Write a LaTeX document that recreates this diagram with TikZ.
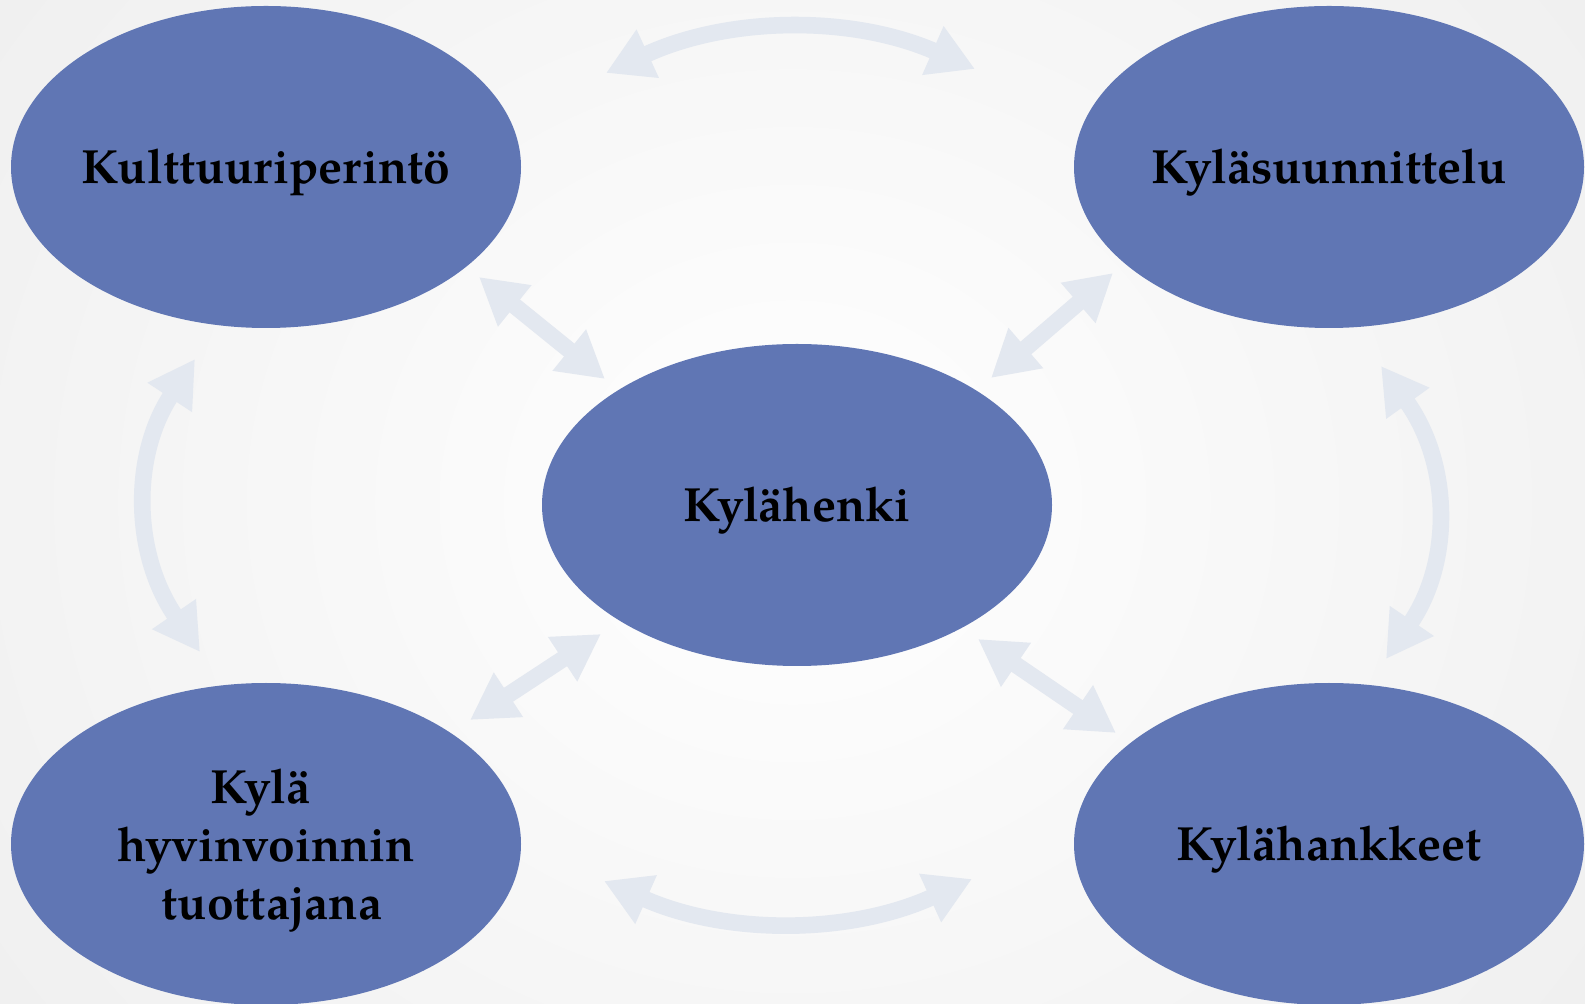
\documentclass[tikz,border=0pt]{standalone}
\usepackage{fontspec}
\setmainfont{TeX Gyre Pagella}
\usetikzlibrary{shapes.geometric,arrows.meta}
\definecolor{ellblue}{RGB}{96,118,180}
\definecolor{arrgray}{RGB}{227,232,240}
\definecolor{bggray}{RGB}{238,238,238}
\tikzset{
  blob/.style={ellipse, fill=ellblue, draw=none, inner sep=0pt,
    minimum width=255pt, minimum height=161pt,
    font=\fontsize{24}{29}\selectfont\bfseries, text=black, align=center},
  oneline/.style={text height=22pt, text depth=5pt},
  dblarrow/.style={draw=arrgray, line width=8.3pt,
    {Triangle[length=23pt,width=25pt]}-{Triangle[length=23pt,width=25pt]}}
}
\begin{document}
\begin{tikzpicture}[x=0.5pt,y=-0.5pt]
\useasboundingbox (0,0) rectangle (1585,1004);
\clip (0,0) rectangle (1585,1004);
\shade[inner color=white, outer color=bggray] (-300,-480) rectangle (1885,1484);
\node[blob,oneline] (tl) at (266,167) {\makebox[0pt]{Kulttuuriperintö}};
\node[blob,oneline] (tr) at (1329,167) {\makebox[0pt]{Kyläsuunnittelu}};
\node[blob,oneline] (c) at (797,505) {\makebox[0pt]{Kylähenki}};
\node[blob] (bl) at (266,844) {\rule{0pt}{24pt}Kylä\hspace*{0.25em}\\hyvinvoinnin\\\hspace*{0.25em}tuottajana};
\node[blob,oneline] (br) at (1329,844) {\makebox[0pt]{Kylähankkeet}};
% curved arrows
\coordinate (t1) at (606,73);
\coordinate (t2) at (975,69);
\coordinate (b1) at (604,881);
\coordinate (b2) at (972,879);
\coordinate (l1) at (195,359);
\coordinate (l2) at (200,652);
\coordinate (r1) at (1381,366);
\coordinate (r2) at (1386,659);
\draw[dblarrow] (t1) .. controls (728.7,16.3) and (851.7,15) .. (t2);
\draw[dblarrow] (b1) .. controls (726.7,935.3) and (849.3,934.7) .. (b2);
\draw[dblarrow] (l1) .. controls (131,456.3) and (132.7,554) .. (l2);
\draw[dblarrow] (r1) .. controls (1451,463.3) and (1452.7,561) .. (r2);
% straight arrows
\coordinate (s1a) at (479,277);
\coordinate (s1b) at (605,379);
\coordinate (s2a) at (1113,273);
\coordinate (s2b) at (991,378);
\coordinate (s3a) at (470,720);
\coordinate (s3b) at (601,634);
\coordinate (s4a) at (978,639);
\coordinate (s4b) at (1116,733);
\draw[dblarrow] (s1a) -- (s1b);
\draw[dblarrow] (s2a) -- (s2b);
\draw[dblarrow] (s3a) -- (s3b);
\draw[dblarrow] (s4a) -- (s4b);
\end{tikzpicture}
\end{document}
